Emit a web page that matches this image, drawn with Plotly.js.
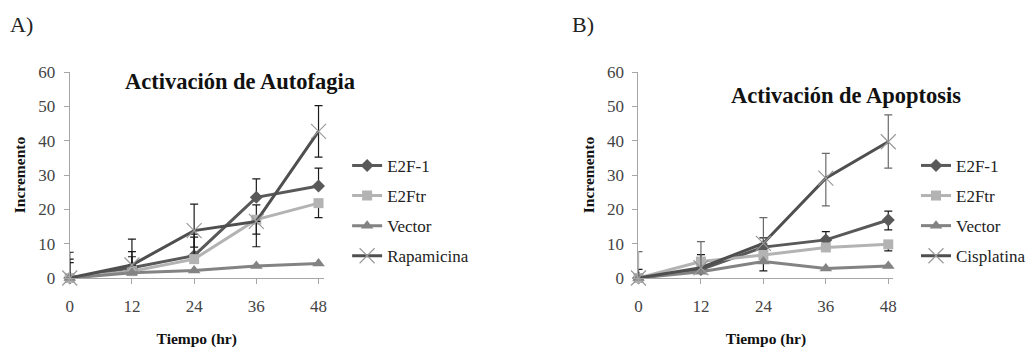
<!DOCTYPE html>
<html>
<head>
<meta charset="utf-8">
<script src="https://cdn.plot.ly/plotly-3.0.1.min.js"></script>
<style>html,body{margin:0;padding:0;background:#fff;}#chart{width:1031px;height:348px;}</style>
</head>
<body>
<div id="chart"></div>
<script>
// Shared x categories (hours)
const tiempo = [0, 12, 24, 36, 48];
const yTicks = [0, 10, 20, 30, 40, 50, 60];

// Panel A: Activación de Autofagia
const aE2F1 = [0, 3.0, 6.5, 23.5, 26.8];
const aE2F1Up = [5.5, 4.7, 6.3, 5.4, 5.2];
const aE2F1Dn = [0, 0, 0, 0, 0];
const aE2Ftr = [0, 2.0, 5.5, 17.0, 21.8];
const aE2FtrUp = [4.5, 4.2, 6.4, 4.3, 0];
const aE2FtrDn = [0, 0, 0, 4.2, 4.2];
const aVector = [0, 1.5, 2.2, 3.5, 4.2];
const aRapa = [0, 3.8, 13.8, 16.5, 42.7];
const aRapaUp = [7.5, 7.5, 7.7, 0, 7.5];
const aRapaDn = [0, 0, 4.8, 7.4, 7.5];

// Panel B: Activación de Apoptosis
const bE2F1 = [0, 2.5, 9.0, 11.1, 16.9];
const bE2F1Up = [0, 4.3, 2.7, 2.4, 2.6];
const bE2F1Dn = [0, 0, 0, 0, 2.9];
const bE2Ftr = [0, 4.8, 6.7, 8.9, 9.8];
const bE2FtrUp = [2.5, 0, 0, 0, 0];
const bE2FtrDn = [0, 0, 0, 0, 1.9];
const bVector = [0, 1.8, 4.8, 2.8, 3.5];
const bVectorDn = [0, 0, 2.7, 0, 0];
const bCis = [0, 3.0, 10.1, 29.1, 39.7];
const bCisUp = [7.7, 7.6, 7.5, 7.2, 7.8];
const bCisDn = [0, 0, 0, 8.1, 7.7];

const cE2F1 = '#595959', cE2Ftr = '#b3b3b3', cVector = '#838383', cDark = '#4f4f4f';
const errC = '#1a1a1a';

function err(up, dn, color) {
  return {type: 'data', symmetric: false, array: up, arrayminus: dn, color: color || errC, thickness: 1.2, width: 4};
}
function tr(name, y, color, symbol, size, xa, ya, leg, e, mcolor, mline) {
  const t = {
    x: tiempo, y: y, name: name, type: 'scatter', mode: 'lines+markers',
    xaxis: xa, yaxis: ya, legend: leg, legendgroup: leg + name,
    line: {color: color, width: 3},
    marker: {symbol: symbol, size: size, color: mcolor || color},
    cliponaxis: false
  };
  if (mline) t.marker.line = mline;
  if (e) t.error_y = e;
  return t;
}

const data = [
  tr('E2F-1', aE2F1, cE2F1, 'diamond', 10, 'x', 'y', 'legend', err(aE2F1Up, aE2F1Dn)),
  tr('E2Ftr', aE2Ftr, cE2Ftr, 'square', 10, 'x', 'y', 'legend', err(aE2FtrUp, aE2FtrDn)),
  tr('Vector', aVector, cVector, 'triangle-up', 11, 'x', 'y', 'legend', null),
  tr('Rapamicina', aRapa, cDark, 'x-thin-open', 15, 'x', 'y', 'legend', err(aRapaUp, aRapaDn), '#9a9a9a', {width: 1.2, color: '#9a9a9a'}),
  tr('E2F-1', bE2F1, cE2F1, 'diamond', 10, 'x2', 'y2', 'legend2', err(bE2F1Up, bE2F1Dn)),
  tr('E2Ftr', bE2Ftr, cE2Ftr, 'square', 10, 'x2', 'y2', 'legend2', err(bE2FtrUp, bE2FtrDn)),
  tr('Vector', bVector, cVector, 'triangle-up', 11, 'x2', 'y2', 'legend2', err([0,0,0,0,0], bVectorDn)),
  tr('Cisplatina', bCis, cDark, 'x-thin-open', 15, 'x2', 'y2', 'legend2', err(bCisUp, bCisDn, '#6a6a6a'), '#9a9a9a', {width: 1.2, color: '#9a9a9a'})
];

const serif = 'Liberation Serif';
const tickFont = {family: serif, size: 17, color: '#444'};
const titleFont = {family: serif, size: 15.5, color: '#111'};

function xax(domain, anchor) {
  return {
    domain: domain, anchor: anchor, range: [0, 49], tickvals: tiempo, ticktext: tiempo.map(String),
    showgrid: false, zeroline: false, showline: true, linecolor: '#a6a6a6', linewidth: 1,
    ticks: 'outside', ticklen: 5, tickcolor: '#a6a6a6', tickfont: tickFont, ticklabelstandoff: 8,
    title: {text: '<b>Tiempo (hr)</b>', font: titleFont, standoff: 22}
  };
}
function yax(anchor) {
  return {
    domain: [0.2011, 0.7931], anchor: anchor, range: [0, 60], tickvals: yTicks,
    showgrid: false, zeroline: false, showline: true, linecolor: '#a6a6a6', linewidth: 1,
    ticks: 'outside', ticklen: 5, tickcolor: '#a6a6a6', tickfont: tickFont, ticklabelstandoff: 5,
    title: {text: '<b>Incremento</b>', font: titleFont, standoff: 8}
  };
}

const legFont = {family: serif, size: 17, color: '#222'};
const layout = {
  width: 1031, height: 348,
  margin: {l: 0, r: 0, t: 0, b: 0},
  paper_bgcolor: '#fff', plot_bgcolor: '#fff',
  showlegend: true,
  xaxis: xax([0.0679, 0.3152], 'y'),
  yaxis: yax('x'),
  xaxis2: xax([0.6217, 0.870], 'y2'),
  yaxis2: yax('x2'),
  legend: {x: 0.338, y: 0.394, xanchor: 'left', yanchor: 'middle', font: legFont, tracegroupgap: 5, itemwidth: 30, bgcolor: 'rgba(0,0,0,0)'},
  legend2: {x: 0.892, y: 0.394, xanchor: 'left', yanchor: 'middle', font: legFont, tracegroupgap: 5, itemwidth: 30, bgcolor: 'rgba(0,0,0,0)'},
  annotations: [
    {text: 'A)', xref: 'paper', yref: 'paper', x: 0.008, y: 0.93, xanchor: 'left', yanchor: 'middle', showarrow: false, font: {family: serif, size: 22, color: '#222'}},
    {text: 'B)', xref: 'paper', yref: 'paper', x: 0.555, y: 0.93, xanchor: 'left', yanchor: 'middle', showarrow: false, font: {family: serif, size: 22, color: '#222'}},
    {text: '<b>Activación de Autofagia</b>', xref: 'paper', yref: 'paper', x: 0.234, y: 0.765, xanchor: 'center', yanchor: 'middle', showarrow: false, font: {family: serif, size: 22.5, color: '#111'}},
    {text: '<b>Activación de Apoptosis</b>', xref: 'paper', yref: 'paper', x: 0.824, y: 0.727, xanchor: 'center', yanchor: 'middle', showarrow: false, font: {family: serif, size: 22.5, color: '#111'}}
  ]
};

Plotly.newPlot('chart', data, layout, {displayModeBar: false, staticPlot: true});
</script>
</body>
</html>
